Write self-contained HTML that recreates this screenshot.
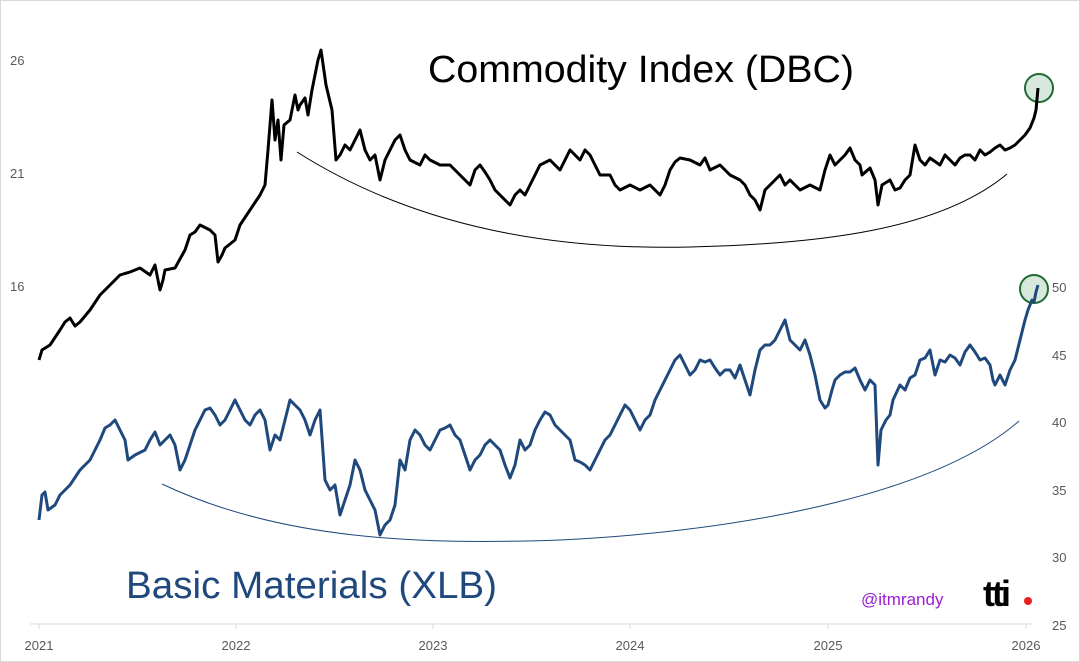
<!DOCTYPE html>
<html><head><meta charset="utf-8"><style>
body{margin:0;background:#fff}
svg{display:block;font-family:"Liberation Sans",sans-serif}
</style></head><body>
<svg width="1080" height="662" viewBox="0 0 1080 662">
<rect x="0.5" y="0.5" width="1079" height="661" fill="#fff" stroke="#d9d9d9"/>
<g fill="#595959" font-size="13">
<text x="10" y="65">26</text><text x="10" y="178">21</text><text x="10" y="291">16</text>
<text x="1052" y="292">50</text><text x="1052" y="360">45</text><text x="1052" y="427">40</text>
<text x="1052" y="495">35</text><text x="1052" y="562">30</text><text x="1052" y="630">25</text>
<g text-anchor="middle">
<text x="39" y="650">2021</text><text x="236" y="650">2022</text><text x="433" y="650">2023</text>
<text x="630" y="650">2024</text><text x="828" y="650">2025</text><text x="1026" y="650">2026</text>
</g></g>
<line x1="30" y1="624" x2="1032" y2="624" stroke="#d9d9d9"/>
<g stroke="#d9d9d9"><line x1="39" y1="624" x2="39" y2="629"/><line x1="236" y1="624" x2="236" y2="629"/><line x1="433" y1="624" x2="433" y2="629"/><line x1="630" y1="624" x2="630" y2="629"/><line x1="828" y1="624" x2="828" y2="629"/><line x1="1026" y1="624" x2="1026" y2="629"/></g>
<text x="428" y="82" font-size="38" fill="#000" textLength="426" lengthAdjust="spacingAndGlyphs">Commodity Index (DBC)</text>
<text x="126" y="598" font-size="38" fill="#1f497d" textLength="371" lengthAdjust="spacingAndGlyphs">Basic Materials (XLB)</text>
<text x="861" y="605" font-size="17" fill="#9b1fd0">@itmrandy</text>
<text x="983" y="606" font-size="36" font-weight="bold" fill="#000" letter-spacing="-3">tti</text>
<circle cx="1028" cy="601" r="4" fill="#e8201f"/>
<path d="M297,152 C420,230 560,250 690,247 C820,244 940,230 1007,174" fill="none" stroke="#000" stroke-width="1"/>
<path d="M162,484 C280,540 420,545 560,540 C760,530 940,490 1019,421" fill="none" stroke="#1f497d" stroke-width="1"/>
<circle cx="1039" cy="88" r="14" fill="#d9e8dc" stroke="#1e6b32" stroke-width="2"/>
<circle cx="1034" cy="289" r="14" fill="#d9e8dc" stroke="#1e6b32" stroke-width="2"/>
<polyline fill="none" stroke="#000" stroke-width="3" stroke-linejoin="round" points="39,360 42,350 50,345 60,330 65,322 70,318 75,326 80,322 90,310 100,295 110,285 120,275 130,272 140,268 150,275 155,265 160,290 163,280 165,270 175,268 185,250 190,235 195,232 200,225 210,230 215,235 218,262 222,255 225,248 235,240 240,225 250,210 260,195 265,185 268,150 272,100 275,140 278,120 281,160 284,125 290,120 295,95 298,110 300,105 305,98 308,115 312,90 318,60 321,50 326,85 332,110 336,160 340,155 345,145 350,150 355,140 360,130 365,150 370,160 375,155 380,180 385,160 390,150 395,140 400,135 405,150 410,160 420,165 425,155 430,160 440,165 450,165 455,170 460,175 465,180 470,185 475,170 480,165 485,172 490,180 495,190 500,195 505,200 510,205 515,195 520,190 525,195 530,185 540,165 550,160 560,170 565,160 570,150 575,155 580,160 585,150 590,155 595,165 600,175 610,175 615,185 620,190 630,185 640,190 650,185 660,195 665,185 670,170 675,162 680,158 690,160 700,165 705,158 710,170 720,165 730,175 740,180 745,185 750,195 755,200 760,210 765,190 770,185 775,180 780,175 785,185 790,180 800,190 810,185 820,190 825,170 830,155 835,165 840,160 845,155 850,148 855,160 860,165 862,175 870,168 875,180 878,205 882,185 890,180 895,190 900,188 905,180 910,175 915,145 920,160 925,165 930,158 940,165 945,155 950,160 955,165 960,158 965,155 970,155 975,160 980,150 985,155 990,152 995,148 1000,145 1005,150 1010,148 1015,145 1020,140 1025,135 1030,128 1034,118 1036,110 1038,88"/>
<polyline fill="none" stroke="#1f497d" stroke-width="3" stroke-linejoin="round" points="39,520 42,495 45,492 48,510 55,505 60,495 65,490 70,485 80,470 90,460 100,440 105,428 110,425 115,420 120,430 125,440 128,460 135,455 145,450 150,440 155,432 160,445 165,440 170,435 175,445 180,470 185,460 190,445 195,430 200,420 205,410 210,408 215,415 220,425 225,420 230,410 235,400 240,410 245,420 250,425 255,415 260,410 265,420 270,450 275,435 280,440 285,420 290,400 295,405 300,410 305,420 310,435 315,420 320,410 325,480 330,490 335,485 340,515 345,500 350,485 355,460 360,470 365,490 370,500 375,510 380,535 385,525 390,520 395,505 400,460 405,470 410,440 415,430 420,435 425,445 430,450 435,440 440,430 445,428 450,425 455,435 460,440 465,455 470,470 475,460 480,455 485,445 490,440 495,445 500,450 505,465 510,478 515,465 520,440 525,450 530,445 535,430 540,420 545,412 550,415 555,425 560,430 565,435 570,440 575,460 580,462 585,465 590,470 595,460 600,450 605,440 610,435 615,425 620,415 625,405 630,410 635,420 640,430 645,420 650,415 655,400 660,390 665,380 670,370 675,360 680,355 685,365 690,375 695,370 700,360 705,362 710,360 715,368 720,375 725,370 730,370 735,378 740,365 745,380 750,395 755,370 760,350 765,345 770,345 775,340 780,330 785,320 790,340 795,345 800,350 805,340 810,355 815,375 820,400 825,408 828,405 832,390 835,380 840,375 845,372 850,372 855,368 860,380 865,390 870,380 875,385 878,465 881,430 886,420 890,415 893,400 900,385 905,390 910,378 915,375 920,360 925,358 930,350 935,375 940,360 945,362 950,355 955,358 960,365 965,352 970,345 975,352 980,360 985,358 990,365 993,380 995,385 1000,375 1005,385 1010,370 1015,360 1020,340 1025,320 1028,310 1030,305 1032,300 1034,302 1036,292 1038,285"/>
</svg>
</body></html>
